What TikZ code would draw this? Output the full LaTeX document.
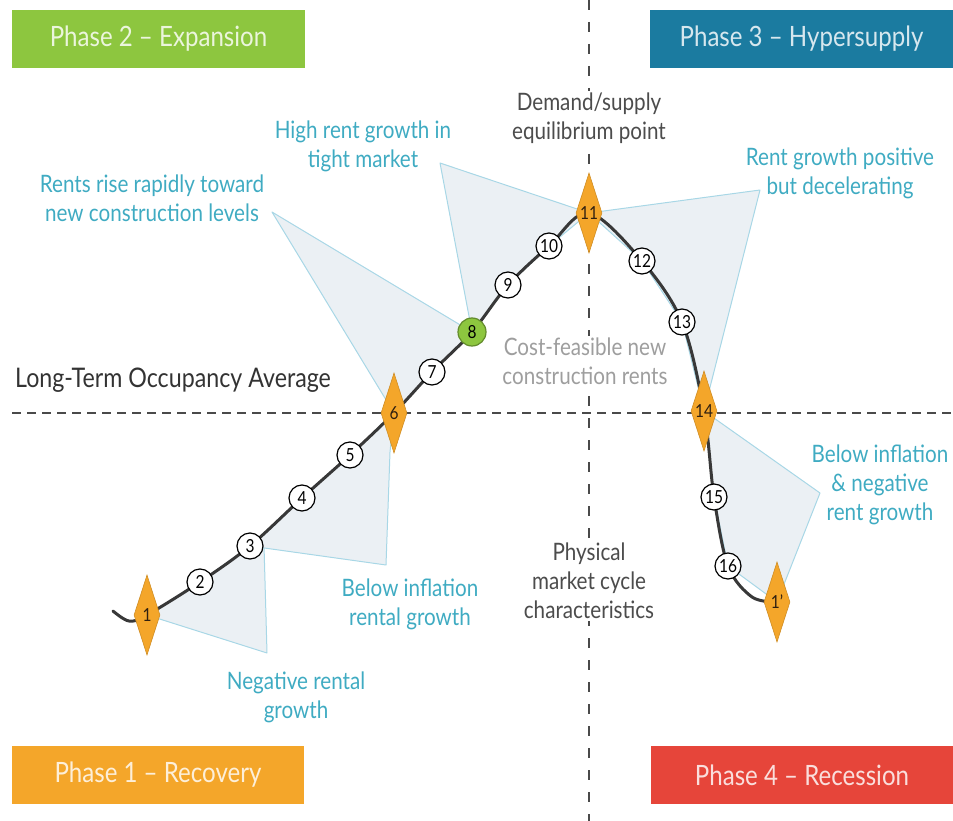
\documentclass[tikz,border=0pt]{standalone}
\usepackage{fontspec}
\setmainfont{Lato}[FakeStretch=0.86]
\usepackage{tikz}
\usetikzlibrary{shapes.geometric,backgrounds}
\definecolor{phgreen}{HTML}{8DC63F}
\definecolor{phblue}{HTML}{1B7BA0}
\definecolor{phorange}{HTML}{F4A62A}
\definecolor{phred}{HTML}{E6453A}
\definecolor{noteteal}{HTML}{3FABC2}
\definecolor{calloutfill}{HTML}{EBF0F4}
\definecolor{calloutline}{HTML}{A8D7E6}
\definecolor{axisgray}{HTML}{4A4A4A}

\begin{document}
\begin{tikzpicture}[x=1pt,y=-1pt,
  dot/.style={circle,draw=black,fill=white,line width=1.2pt,inner sep=0pt,minimum size=26pt,font=\fontsize{18}{18}\selectfont},
  rhomb/.style={diamond,aspect=0.33,fill=phorange,draw=phorange!85!black,line width=0.6pt,inner sep=0pt,minimum width=26pt,minimum height=80pt,text=black!75!brown,font=\fontsize{18}{18}\selectfont},
  phasebox/.style={fill=#1,text=white!82!#1,minimum height=58pt,inner sep=0pt,font=\fontsize{28}{32}\selectfont},
  callout/.style={fill=calloutfill,draw=calloutline,line width=1pt,line join=round},
  note/.style={text=noteteal,align=center,inner sep=1pt,font=\fontsize{24}{29}\selectfont},
  remark/.style={text=#1,fill=white,align=center,inner sep=2pt,font=\fontsize{24}{29}\selectfont}]

\useasboundingbox (0,0) rectangle (953,821);

% phase boxes
\node[phasebox=phgreen,minimum width=293pt] (ph2) at (158.5,39) {Phase 2 – Expansion};
\node[phasebox=phblue,minimum width=303pt] (ph3) at (801.5,39) {Phase 3 – Hypersupply};
\node[phasebox=phorange,minimum width=292pt] (ph1) at (158,775) {Phase 1 – Recovery};
\node[phasebox=phred,minimum width=302pt] (ph4) at (802,775) {Phase 4 – Recession};

% cycle points
\foreach \i/\x/\y in {2/200/582, 3/250/546, 4/302/498, 5/350/455, 7/432/372, 9/508/285, 10/549/246, 12/642/261, 13/682/322, 15/714/497, 16/728/566}
  \node[dot] (c\i) at (\x,\y) {\i};
\node[dot,fill=phgreen,draw=phgreen!70!black,minimum size=28pt] (c8) at (472,332) {8};
\foreach \i/\x/\y/\t in {1/147/615/1, 6/394/413/6, 11/589/213/11, 14/704/411/14, 17/777/602/1'}
  \node[rhomb] (c\i) at (\x,\y) {\t};

\coordinate (tail) at (113,611);
\coordinate (hook) at (129,621);
\coordinate (bend) at (752,597);
\coordinate (avgL) at (12,413);
\coordinate (avgR) at (953,413);
\coordinate (axT) at (589,0);
\coordinate (axB) at (589,821);

% callout tips
\coordinate (t1) at (267,653);
\coordinate (t1b) at (264,545);
\coordinate (t2) at (386,565);
\coordinate (t2b) at (390,452);
\coordinate (t3) at (272,212);
\coordinate (t4) at (440,163);
\coordinate (t5) at (760,190);
\coordinate (t6) at (820,493);

% texts
\node[note] (n1) at (296,697) {Negative rental\\growth};
\node[note] (n2) at (410,604) {Below inflation\\rental growth};
\node[note] (n3) at (152,198) {Rents rise rapidly toward\\new construction levels};
\node[note] (n4) at (363,146) {High rent growth in\\tight market};
\node[note] (n5) at (840,173) {Rent growth positive\\but decelerating};
\node[note] (n6) at (880,485) {Below inflation\\\& negative\\rent growth};

\node[remark=black!70] (dem) at (589,118) {Demand/supply\\equilibrium point};
\node[remark=black!38] (cost) at (585,361) {Cost-feasible new\\construction rents};
\node[remark=black!70] (phys) at (589,581) {Physical\\market cycle\\characteristics};
\node[text=black!80,anchor=west,inner sep=0pt,font=\fontsize{27}{30}\selectfont] (avg) at (15,380) {Long-Term Occupancy Average};

\begin{scope}[on background layer]
\draw[axisgray,line width=2.6pt,dash pattern=on 9pt off 6pt] (avgL) -- (avgR);
\draw[axisgray,line width=1.4pt,dash pattern=on 10pt off 12pt] (axT) -- (axB);

\draw[callout] (c1.center) -- (t1) -- (t1b) -- (c3.center) -- (c2.center) -- cycle;
\draw[callout] (c3.center) -- (t2) -- (t2b) -- (c6.center) -- (c5.center) -- (c4.center) -- cycle;
\draw[callout] (t3) -- (c8.center) -- (c7.center) -- (c6.center) -- cycle;
\draw[callout] (t4) -- (c8.center) -- (c9.center) -- (c10.center) -- (c11.center) -- cycle;
\draw[callout] (c11.center) -- (t5) -- (c14.center) -- (c13.center) -- (c12.center) -- cycle;
\draw[callout] (c14.center) -- (t6) -- (c17.center) -- (c16.center) -- (c15.center) -- cycle;

\draw[black!78,line width=3pt,line cap=round] plot[smooth,tension=0.55] coordinates {(tail) (hook) (c1) (c2) (c3) (c4) (c5) (c6) (c7) (c8) (c9) (c10) (c11) (c12) (c13) (c14) (c15) (c16) (bend) (c17)};
\end{scope}

\end{tikzpicture}
\end{document}
